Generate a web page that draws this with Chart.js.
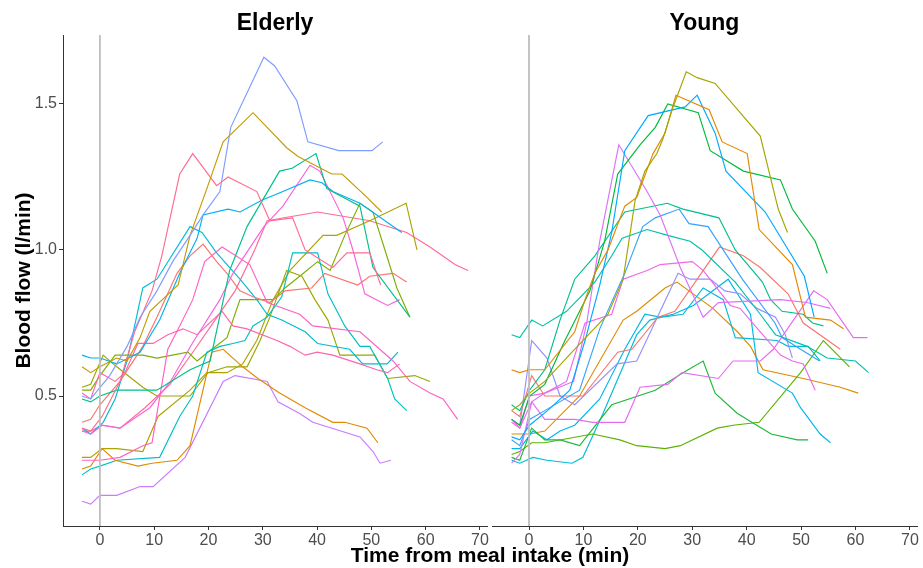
<!DOCTYPE html>
<html>
<head>
<meta charset="utf-8">
<script src="https://cdn.jsdelivr.net/npm/chart.js@4.4.1/dist/chart.umd.min.js"></script>
<style>
  body { margin: 0; background: #fff; }
  #wrap { position: relative; width: 923px; height: 568px; }
  #wrap canvas { position: absolute; left: 0; top: 0; }
</style>
</head>
<body>
<div id="wrap">
  <canvas id="elderly" width="923" height="568"></canvas>
  <canvas id="young" width="923" height="568"></canvas>
</div>
<script>
// axis setup
const xTicks = [0, 10, 20, 30, 40, 50, 60, 70];
const yTicks = [0.5, 1.0, 1.5];
const xRange = [-6.8, 71.3];
const yRange = [0.055, 1.736];
const mealTime = 0;

// Elderly subjects: [time (min), blood flow (l/min)]
const e01 = [[-3.3,0.50],[-1.7,0.49],[1.8,0.57],[5.0,0.67],[7.4,0.77],[10.5,0.86],[13.4,0.96],[16.6,1.05],[19.0,1.12],[22.1,1.20],[24.1,1.42],[30.2,1.66],[32.2,1.63],[36.3,1.51],[38.3,1.37],[44.0,1.34],[50.1,1.34],[52.1,1.37]];
const e02 = [[-3.3,0.60],[-1.7,0.58],[0,0.60],[3.1,0.63],[5.0,0.62],[7.4,0.70],[9.2,0.79],[14.4,0.88],[16.6,1.05],[19.7,1.21],[22.7,1.37],[28.2,1.47],[34.4,1.35],[36.5,1.32],[42.7,1.26],[44.6,1.26],[49.2,1.18],[51.9,1.13]];
const e03 = [[-3.3,0.39],[-1.7,0.38],[0.4,0.43],[3.7,0.55],[6.4,0.72],[9.6,0.86],[11.4,0.98],[14.7,1.26],[17.1,1.33],[21.5,1.22],[23.6,1.25],[28.9,1.20],[31.3,1.10],[35.5,1.11],[37.8,1.00],[42.9,0.94],[45.5,0.99],[49.7,0.99],[51.7,0.88]];
const e04 = [[-3.3,0.49],[-1.7,0.48],[0,0.50],[3.1,0.52],[10.5,0.52],[16.6,0.59],[20.3,0.62],[23.9,0.93],[27.1,1.08],[33.1,1.27],[35.4,1.28],[39.8,1.33],[41.8,1.21],[47.9,1.15],[50.3,0.94],[57.1,0.77]];
const e05 = [[-3.3,0.64],[-1.7,0.63],[0,0.63],[3.1,0.61],[7.4,0.65],[11.0,0.76],[14.7,0.92],[17.9,1.04],[19.0,1.12],[23.6,1.14],[25.8,1.13],[29.8,1.17],[33.7,1.20],[38.7,1.24],[40.9,1.23],[42.9,1.20],[47.9,1.16],[55.6,1.06]];
const e06 = [[-3.3,0.28],[-1.7,0.28],[0,0.28],[3.7,0.29],[7.9,0.33],[9.6,0.34],[12.5,0.66],[14.7,0.74],[17.1,0.83],[19.3,0.96],[22.5,1.01],[27.6,0.95],[30.8,0.82],[36.8,0.78],[39.2,0.74],[47.9,0.72],[54.0,0.62],[57.1,0.55],[60.8,0.51],[63.2,0.49],[65.9,0.42]];
const e07 = [[-3.3,0.51],[-1.7,0.49],[0,0.58],[2.8,0.55],[4.6,0.58],[7.0,0.68],[9.8,0.68],[12.5,0.71],[15.3,0.73],[17.9,0.71],[22.5,0.79],[24.5,0.74],[27.1,0.73],[32.6,0.69],[35.0,0.67],[37.8,0.64],[40.0,0.65],[42.9,0.64],[47.9,0.61],[51.0,0.59],[53.0,0.58],[55.2,0.61]];
const e08 = [[-3.3,0.38],[-1.7,0.37],[0.4,0.40],[3.7,0.39],[9.2,0.46],[13.0,0.55],[17.0,0.68],[22.1,0.83],[24.5,0.92],[30.2,1.08],[33.7,1.15],[38.7,1.29],[40.5,1.27],[44.8,1.11],[46.6,1.00],[48.8,0.85],[53.0,0.81],[55.2,0.83]];
const e09 = [[-3.3,0.41],[-1.7,0.42],[0,0.47],[3.7,0.55],[7.9,0.67],[10.5,0.77],[14.2,0.92],[16.6,0.98],[19.0,1.02],[21.5,0.96],[23.4,0.92],[25.8,0.86],[28.2,0.84],[31.3,0.82],[34.1,0.86],[39.0,0.87],[41.4,0.92],[47.5,0.88],[49.7,0.91],[54.0,0.92],[56.5,0.89]];
const e10 = [[-3.3,0.25],[-1.7,0.26],[0.4,0.32],[2.8,0.28],[7.0,0.26],[9.6,0.27],[14.2,0.28],[16.6,0.33],[20.6,0.65],[22.7,0.66],[26.3,0.60],[29.1,0.56],[33.1,0.51],[37.8,0.46],[42.9,0.41],[45.1,0.41],[49.2,0.39],[51.2,0.34]];
const e11 = [[-3.3,0.14],[-1.7,0.13],[0,0.16],[3.1,0.16],[7.4,0.19],[9.8,0.19],[15.7,0.29],[22.7,0.55],[24.9,0.57],[30.8,0.55],[32.8,0.48],[36.8,0.44],[39.2,0.41],[47.9,0.36],[50.3,0.31],[51.6,0.27],[53.6,0.28]];
const e12 = [[-3.3,0.23],[-1.7,0.25],[0,0.26],[3.1,0.28],[11.0,0.29],[14.7,0.43],[17.1,0.50],[19.7,0.65],[22.1,0.67],[24.5,0.68],[26.7,0.69],[28.2,0.74],[30.8,0.77],[33.5,0.84],[35.5,0.99],[40.1,0.99],[42.0,0.85],[45.1,0.74],[47.9,0.67],[49.7,0.67],[53.0,0.56],[54.3,0.49],[56.5,0.45]];
const e13 = [[-3.3,0.39],[-1.7,0.37],[0.6,0.41],[2.8,0.49],[5.0,0.62],[7.9,0.87],[10.5,0.90],[16.6,1.08],[18.8,1.06],[21.5,0.99],[25.8,0.90],[28.9,0.83],[30.8,0.78],[33.5,0.76],[37.8,0.72],[40.1,0.68],[46.0,0.66],[48.4,0.61],[52.9,0.61],[54.9,0.65]];
const e14 = [[-3.3,0.53],[-1.7,0.54],[0.6,0.64],[3.1,0.60],[7.9,0.53],[10.5,0.50],[16.6,0.50],[19.9,0.58],[23.4,0.60],[27.1,0.60],[29.5,0.69],[31.3,0.77],[34.4,0.93],[37.2,0.91],[39.6,0.83],[42.0,0.76],[44.2,0.64],[50.6,0.64],[53.0,0.56],[58.0,0.57],[60.8,0.55]];
const e15 = [[-3.3,0.52],[-1.7,0.52],[0,0.57],[2.8,0.64],[7.9,0.64],[10.5,0.63],[16.2,0.65],[17.9,0.62],[19.9,0.65],[23.4,0.70],[25.8,0.83],[31.9,0.83],[34.1,0.87],[36.8,0.91],[40.1,0.96],[42.4,0.93],[45.1,1.05],[47.9,1.16],[50.3,1.13],[52.5,1.00],[54.7,0.87],[57.1,0.77]];
const e16 = [[-3.3,0.29],[-1.7,0.29],[0.4,0.32],[3.1,0.32],[7.9,0.31],[10.7,0.43],[16.6,0.52],[19.7,0.58],[23.4,0.58],[26.3,0.61],[28.9,0.69],[31.9,0.83],[35.0,0.93],[41.1,1.05],[43.6,1.05],[49.7,1.10],[51.9,1.12],[56.4,1.16],[58.4,1.00]];
const e17 = [[-3.3,0.38],[-1.7,0.38],[0.4,0.40],[3.7,0.39],[8.3,0.46],[12.9,0.54],[17.5,0.66],[21.2,0.76],[24.9,0.86],[28.5,1.00],[30.8,1.10],[40.1,1.13],[49.7,1.10],[56.5,1.06],[60.8,1.01],[65.4,0.95],[67.8,0.93]];
const elderly = [e01, e02, e03, e04, e05, e06, e07, e08, e09, e10, e11, e12, e13, e14, e15, e16, e17];
const elderlyColors = ['#7F9CFF', '#C49A00', '#FF6C91', '#00C08B', '#00B0F6', '#FF61C3', '#FF65AC', '#F962DD', '#F8766D', '#E38900', '#C77CFF', '#00BFC4', '#00BCD8', '#99A800', '#7CAE00', '#ABA300', '#FF6A98'];

// Young subjects
const y01 = [[-3.2,0.45],[-1.7,0.47],[0.1,0.51],[2.9,0.55],[7.9,0.65],[14.5,0.78],[17.3,0.90],[19.5,1.17],[21.3,1.27],[23.5,1.33],[24.6,1.38],[26.3,1.48],[28.9,1.61],[30.9,1.59],[34.2,1.57],[42.5,1.39],[45.8,1.14],[47.5,1.06]];
const y02 = [[-3.2,0.59],[-1.7,0.58],[0.1,0.59],[2.9,0.59],[8.4,0.72],[10.3,0.83],[12.1,0.92],[14.5,1.00],[17.6,1.15],[19.8,1.18],[22.8,1.33],[25.0,1.40],[27.0,1.53],[33.1,1.48],[35.5,1.37],[40.1,1.33],[42.3,1.07],[48.4,0.95],[50.8,0.77],[55.4,0.76],[57.8,0.73]];
const y03 = [[-3.2,0.36],[-1.7,0.35],[0.1,0.40],[3.4,0.45],[7.5,0.52],[10.3,0.69],[13.0,0.88],[15.2,1.06],[17.6,1.34],[21.9,1.46],[28.7,1.49],[30.9,1.53],[34.2,1.40],[36.2,1.27],[43.4,1.13],[50.6,0.91],[52.4,0.77]];
const y04 = [[-3.2,0.42],[-1.7,0.40],[0.1,0.50],[2.9,0.54],[6.6,0.69],[11.2,0.86],[13.9,1.03],[16.3,1.26],[20.4,1.36],[23.2,1.42],[25.5,1.50],[31.1,1.47],[33.3,1.34],[39.4,1.27],[46.2,1.24],[48.4,1.14],[52.6,1.03],[54.8,0.92]];
const y05 = [[-3.2,0.27],[-1.7,0.30],[0.5,0.48],[2.9,0.51],[8.2,0.55],[10.6,0.75],[13.0,1.03],[16.5,1.36],[21.7,1.20],[24.1,1.12],[27.8,0.94],[32.0,0.77],[34.8,0.82],[46.2,0.83],[51.1,0.82],[55.4,0.80]];
const y06 = [[-3.2,0.47],[-1.7,0.45],[0.1,0.52],[2.9,0.59],[5.7,0.76],[8.4,0.90],[12.1,0.98],[17.6,1.13],[25.4,1.16],[28.3,1.14],[34.9,1.11],[37.9,1.00],[42.9,0.89],[44.4,0.83],[46.5,0.79],[50.4,0.78],[52.1,0.75],[54.1,0.74]];
const y07 = [[-3.2,0.35],[-1.7,0.33],[0.1,0.42],[2.9,0.45],[9.3,0.52],[13.0,0.73],[15.4,0.83],[17.6,0.92],[20.9,1.08],[23.2,1.11],[27.6,1.14],[29.4,1.09],[32.9,1.08],[39.2,0.90],[45.2,0.75],[46.5,0.70],[49.9,0.66],[53.4,0.62]];
const y08 = [[-3.2,0.71],[-1.7,0.70],[0.5,0.76],[2.5,0.74],[6.9,0.79],[12.1,0.89],[15.2,0.98],[17.1,1.04],[21.7,1.07],[25.5,1.05],[29.6,1.03],[31.8,1.00],[37.9,0.89],[42.5,0.78],[45.3,0.71],[51.1,0.67],[54.8,0.63],[60.0,0.62],[62.4,0.58]];
const y09 = [[-3.2,0.45],[-1.7,0.43],[0.5,0.57],[2.9,0.50],[9.9,0.50],[16.3,0.65],[18.9,0.66],[23.7,0.77],[26.8,0.79],[35.0,1.01],[39.4,0.98],[42.5,0.94],[47.6,0.85],[50.4,0.75],[57.2,0.66]];
const y10 = [[-3.2,0.42],[-1.7,0.39],[0.1,0.50],[2.9,0.51],[6.9,0.55],[10.3,0.75],[15.2,0.78],[17.3,0.90],[21.7,0.93],[24.1,0.95],[30.0,0.96],[32.0,0.93],[37.0,0.81],[38.8,0.80],[42.5,0.72],[46.2,0.64],[48.4,0.62],[50.4,0.61],[52.6,0.52]];
const y11 = [[-3.2,0.41],[-1.7,0.39],[0.5,0.48],[2.9,0.42],[8.4,0.42],[11.7,0.41],[17.6,0.41],[20.4,0.53],[25.5,0.54],[28.1,0.58],[34.8,0.56],[37.5,0.62],[42.5,0.62],[44.9,0.66],[52.3,0.86],[54.8,0.83],[59.6,0.70],[62.2,0.70]];
const y12 = [[-3.2,0.42],[-1.7,0.40],[0.5,0.69],[3.3,0.63],[5.7,0.50],[8.4,0.47],[16.2,0.61],[19.8,0.62],[24.1,0.79],[27.4,0.92],[29.6,0.90],[33.3,0.90],[36.0,0.86],[38.8,0.85],[41.9,0.80],[45.3,0.77],[47.1,0.71],[48.4,0.63]];
const y13 = [[-3.2,0.29],[-1.7,0.28],[0.5,0.39],[2.9,0.35],[5.7,0.35],[9.3,0.33],[15.2,0.47],[23.2,0.52],[28.3,0.58],[32.0,0.62],[34.2,0.51],[38.3,0.44],[44.5,0.37],[49.3,0.35],[51.3,0.35]];
const y14 = [[-3.2,0.30],[-1.7,0.31],[0.5,0.34],[2.9,0.34],[11.7,0.37],[16.7,0.35],[19.8,0.33],[25.0,0.32],[27.8,0.33],[34.6,0.39],[37.5,0.40],[42.3,0.41],[49.9,0.58],[54.1,0.69],[58.9,0.60]];
const y15 = [[-3.2,0.28],[-1.7,0.27],[0.7,0.29],[3.3,0.28],[7.9,0.27],[9.9,0.29],[13.6,0.44],[19.8,0.71],[22.2,0.76],[24.4,0.77],[28.3,0.78],[32.0,0.87],[35.7,0.83],[37.9,0.70],[45.6,0.69],[47.6,0.67],[51.3,0.67],[53.5,0.62]];
const y16 = [[-3.2,0.32],[-1.7,0.32],[0.7,0.38],[3.3,0.35],[5.7,0.38],[8.4,0.40],[13.0,0.49],[17.6,0.66],[21.3,0.78],[24.1,0.77],[26.5,0.78],[30.2,0.81],[36.6,0.90],[40.7,0.78],[42.1,0.58],[48.4,0.51],[49.9,0.46],[53.5,0.37],[55.4,0.34]];
const y17 = [[-3.2,0.37],[-1.7,0.37],[0.1,0.37],[2.9,0.38],[9.3,0.50],[17.3,0.76],[19.8,0.79],[25.0,0.87],[27.2,0.89],[33.8,0.80],[38.3,0.72],[40.7,0.67],[43.0,0.59],[50.4,0.56],[57.2,0.53],[60.5,0.51]];
const young = [y01, y02, y03, y04, y05, y06, y07, y08, y09, y10, y11, y12, y13, y14, y15, y16, y17];
const youngColors = ['#A3A500', '#E58700', '#00A9FF', '#00BA38', '#DC71FA', '#00C08B', '#35A2FF', '#00C1A9', '#F8766D', '#EF67EB', '#E76BF3', '#9590FF', '#1DB83A', '#5BB300', '#00BCD8', '#00B6EB', '#DE8C00'];

const tickFont = { family: '"Liberation Sans", Arial, sans-serif', size: 16 };
const tickColor = '#4D4D4D';
const axisColor = '#333333';

// facet titles and axis titles
const panelText = {
  id: 'panelText',
  afterDraw(chart, args, opts) {
    const { ctx, chartArea } = chart;
    ctx.save();
    ctx.fillStyle = '#000';
    ctx.textAlign = 'center';
    ctx.textBaseline = 'alphabetic';
    ctx.font = 'bold 23px "Liberation Sans", Arial, sans-serif';
    ctx.fillText(opts.title, (chartArea.left + chartArea.right) / 2, 30);
    ctx.font = 'bold 21px "Liberation Sans", Arial, sans-serif';
    if (opts.xTitle) ctx.fillText(opts.xTitle, 490, 562);
    if (opts.yTitle) {
      ctx.translate(30, (chartArea.top + chartArea.bottom) / 2);
      ctx.rotate(-Math.PI / 2);
      ctx.fillText(opts.yTitle, 0, 0);
    }
    ctx.restore();
  }
};

function buildDatasets(subjects, colors) {
  const sets = [{
    data: [{ x: mealTime, y: yRange[0] }, { x: mealTime, y: yRange[1] }],
    borderColor: '#BEBEBE',
    borderWidth: 1.8
  }];
  subjects.forEach((pts, i) => {
    sets.push({
      data: pts.map(p => ({ x: p[0], y: p[1] })),
      borderColor: colors[i],
      borderWidth: 1.15
    });
  });
  return sets;
}

function makeChart(id, subjects, colors, showY, padding, text) {
  return new Chart(document.getElementById(id), {
    type: 'line',
    data: { datasets: buildDatasets(subjects, colors) },
    options: {
      responsive: false,
      animation: false,
      devicePixelRatio: 1,
      layout: { padding },
      elements: { point: { radius: 0 }, line: { tension: 0, fill: false } },
      plugins: { legend: { display: false }, tooltip: { enabled: false }, panelText: text },
      scales: {
        x: {
          type: 'linear',
          min: xRange[0],
          max: xRange[1],
          afterBuildTicks: s => { s.ticks = xTicks.map(v => ({ value: v })); },
          afterFit: s => { s.height = 42; },
          ticks: { font: tickFont, color: tickColor, padding: 1, maxRotation: 0 },
          grid: { drawOnChartArea: false, drawTicks: true, tickLength: 4, color: axisColor },
          border: { display: true, color: axisColor, width: 1 }
        },
        y: {
          display: showY,
          min: yRange[0],
          max: yRange[1],
          afterBuildTicks: s => { s.ticks = yTicks.map(v => ({ value: v })); },
          afterFit: s => { s.width = showY ? 63 : 0; },
          ticks: { font: tickFont, color: tickColor, padding: 2, callback: v => v.toFixed(1) },
          grid: { drawOnChartArea: false, drawTicks: true, tickLength: 4, color: axisColor },
          border: { display: true, color: axisColor, width: 1 }
        }
      }
    },
    plugins: [panelText]
  });
}

makeChart('elderly', elderly, elderlyColors, true,
  { left: 0, right: 436, top: 35, bottom: 0 },
  { title: 'Elderly', xTitle: 'Time from meal intake (min)', yTitle: 'Blood flow (l/min)' });
makeChart('young', young, youngColors, false,
  { left: 492, right: 6, top: 35, bottom: 0 },
  { title: 'Young' });
</script>
</body>
</html>
